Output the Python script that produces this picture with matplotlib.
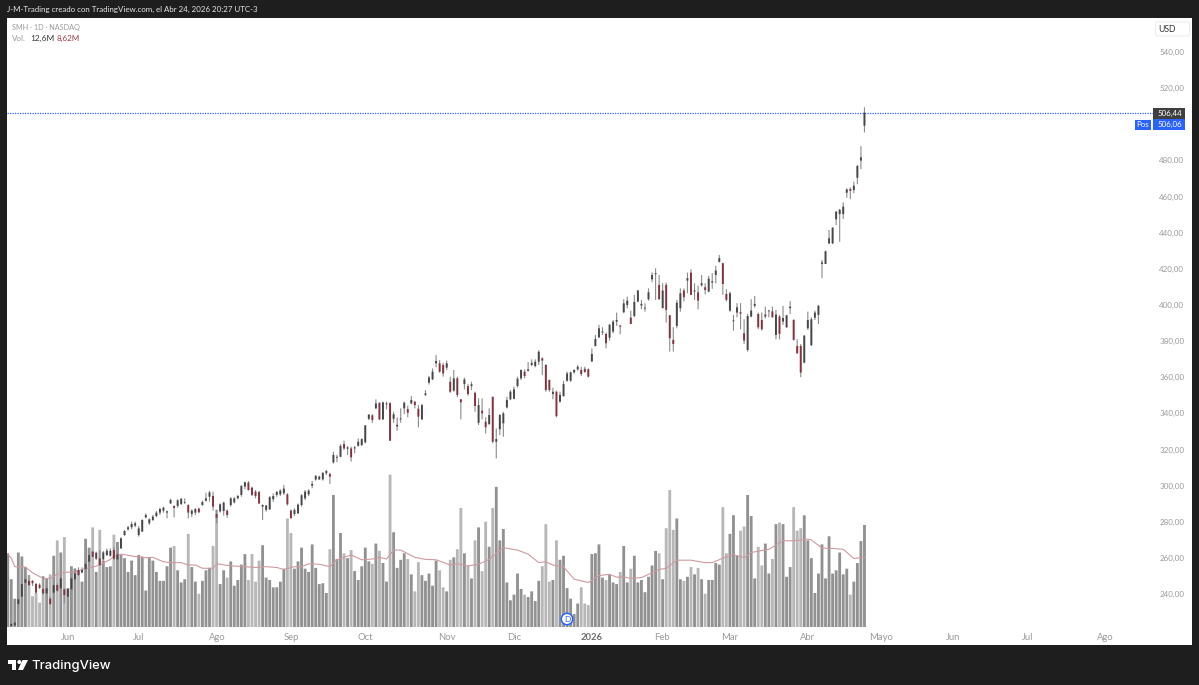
import matplotlib

matplotlib.use("Agg")
import matplotlib.pyplot as plt
from matplotlib.patches import Circle, FancyBboxPatch, Polygon, Rectangle
from matplotlib.ticker import FuncFormatter

plt.rcParams["font.family"] = ["Lato", "DejaVu Sans"]

opens = [
    219.5, 222.3, 222.7, 234.5, 238.6, 246.3, 247.4, 247.3, 245.6, 245.2,
    242.8, 240.4, 237.5, 240.8, 245.0, 243.2, 242.6, 238.6, 242.6, 248.2,
    253.3, 252.0, 253.9, 258.0, 263.5, 259.6, 259.8, 259.2, 261.6, 261.3,
    264.4, 259.2, 265.3, 272.7, 275.9, 277.0, 277.9, 272.7, 274.6, 282.5,
    279.2, 281.0, 283.2, 285.1, 286.2, 285.1, 290.2, 288.8, 288.8, 289.9,
    290.4, 289.3, 284.3, 285.1, 287.3, 289.3, 291.7, 293.9, 294.3, 284.3,
    285.8, 286.0, 286.2, 289.3, 290.8, 293.0, 294.9, 299.5, 301.7, 298.9,
    296.7, 296.5, 288.4, 286.6, 286.9, 292.5, 294.9, 295.2, 295.8, 295.2,
    286.2, 284.3, 284.7, 289.3, 293.0, 295.2, 300.0, 303.4, 303.5, 303.5,
    306.9, 306.5, 312.9, 315.5, 316.0, 323.0, 320.5, 320.6, 320.6, 322.1,
    322.5, 324.0, 337.0, 338.9, 342.8, 345.9, 336.7, 345.0, 345.7, 337.0,
    332.8, 336.7, 342.8, 342.4, 345.5, 346.5, 342.6, 336.7, 350.2, 357.0,
    358.8, 367.7, 367.7, 366.8, 365.3, 357.5, 352.6, 359.4, 347.8, 356.2,
    355.1, 355.1, 351.4, 334.8, 341.5, 335.4, 334.1, 349.2, 324.3, 331.2,
    334.5, 343.3, 347.8, 348.1, 355.1, 359.4, 363.1, 363.6, 366.8, 366.2,
    368.6, 370.5, 366.8, 358.5, 350.7, 352.0, 346.5, 349.6, 358.1, 358.1,
    362.7, 364.4, 364.0, 364.7, 364.4, 368.7, 377.3, 382.1, 384.7, 384.0,
    381.9, 385.3, 390.8, 388.6, 396.0, 400.0, 393.0, 393.9, 401.9, 399.7,
    398.0, 403.2, 414.2, 417.0, 411.1, 398.2, 411.1, 394.3, 380.7, 388.4,
    398.2, 408.0, 413.5, 417.9, 407.4, 407.0, 410.9, 409.8, 407.4, 412.4,
    416.6, 423.8, 423.1, 406.1, 396.9, 391.0, 395.8, 396.0, 384.3, 375.1,
    393.6, 399.5, 395.0, 391.7, 393.6, 396.5, 396.5, 383.4, 393.6, 390.8,
    387.7, 398.2, 391.7, 377.3, 377.3, 368.1, 387.1, 377.7, 393.0, 394.5,
    422.7, 422.7, 434.1, 434.1, 447.4, 450.3, 450.3, 462.1, 464.2, 463.6,
    470.4, 479.9, 499.2,
]
closes = [
    220.5, 223.5, 224.2, 237.1, 245.6, 248.2, 245.0, 246.0, 240.8, 243.4,
    240.4, 243.2, 234.5, 245.0, 241.9, 248.7, 239.5, 242.8, 248.7, 251.5,
    250.6, 253.3, 256.7, 261.6, 260.7, 262.9, 256.1, 263.1, 264.0, 264.0,
    259.6, 262.0, 270.9, 274.9, 277.0, 278.8, 279.2, 276.4, 281.0, 283.8,
    281.4, 282.9, 285.1, 287.1, 287.8, 285.8, 292.1, 287.7, 291.9, 292.8,
    290.8, 285.1, 286.2, 287.1, 285.3, 291.0, 293.0, 296.3, 288.4, 282.3,
    289.7, 290.6, 283.8, 293.0, 293.0, 294.3, 299.8, 301.9, 297.6, 294.9,
    294.3, 290.2, 289.3, 289.0, 293.6, 294.3, 296.5, 297.3, 298.4, 289.7,
    282.1, 286.6, 289.5, 294.7, 296.7, 297.3, 301.0, 305.4, 305.0, 307.2,
    308.1, 305.0, 317.0, 316.0, 322.0, 320.6, 321.2, 315.7, 321.2, 324.3,
    325.8, 333.4, 339.3, 336.3, 345.5, 336.7, 346.1, 345.5, 324.9, 339.5,
    333.7, 337.2, 345.9, 340.4, 347.4, 344.6, 338.2, 344.6, 351.1, 359.9,
    363.1, 369.0, 363.1, 362.1, 367.7, 352.0, 359.4, 350.2, 346.1, 358.8,
    350.7, 356.1, 344.1, 344.6, 340.0, 332.3, 339.1, 324.3, 325.8, 339.1,
    340.0, 347.4, 352.0, 353.3, 359.2, 364.0, 360.7, 364.4, 368.0, 368.6,
    374.1, 369.2, 352.9, 352.9, 352.0, 338.5, 350.2, 356.2, 362.1, 362.7,
    364.0, 365.8, 361.8, 362.9, 360.3, 372.9, 381.2, 387.1, 385.3, 378.8,
    389.0, 390.8, 391.7, 388.0, 400.9, 402.4, 389.5, 401.7, 408.0, 400.6,
    398.5, 407.0, 416.6, 417.6, 403.2, 408.0, 397.3, 381.6, 378.4, 401.3,
    406.5, 404.3, 414.8, 405.6, 408.0, 402.4, 412.0, 408.3, 414.6, 413.1,
    419.0, 425.9, 411.6, 402.8, 406.5, 391.5, 398.7, 395.2, 380.3, 393.9,
    396.9, 400.6, 387.7, 386.6, 394.7, 396.9, 393.2, 394.7, 384.0, 392.8,
    394.3, 399.1, 380.7, 373.3, 362.6, 383.0, 391.7, 392.1, 395.8, 399.5,
    423.5, 429.7, 436.9, 442.8, 451.6, 452.7, 454.4, 464.0, 463.2, 466.0,
    476.9, 481.7, 506.44,
]
highs = [
    221.0, 224.2, 225.1, 238.2, 246.3, 249.3, 250.6, 247.8, 246.3, 246.0,
    250.0, 243.8, 238.6, 245.6, 246.0, 249.3, 243.2, 243.2, 249.6, 254.3,
    254.8, 254.8, 258.0, 262.6, 263.9, 263.5, 264.4, 263.9, 265.3, 265.3,
    265.9, 262.6, 271.4, 275.5, 277.7, 280.1, 280.1, 277.7, 281.4, 284.7,
    281.9, 283.8, 286.0, 287.8, 288.4, 286.2, 292.8, 289.0, 292.5, 293.0,
    293.0, 289.7, 286.9, 287.5, 287.8, 291.7, 296.1, 297.1, 296.7, 286.6,
    290.2, 291.2, 286.9, 293.6, 293.6, 294.9, 300.4, 302.2, 302.6, 299.5,
    297.6, 297.1, 289.7, 289.3, 294.3, 295.8, 297.1, 298.0, 300.4, 295.8,
    286.9, 287.5, 290.2, 295.4, 297.6, 298.0, 302.6, 305.9, 305.6, 307.2,
    308.7, 307.2, 318.8, 317.0, 323.0, 324.9, 321.9, 321.6, 321.9, 326.2,
    326.2, 333.5, 339.6, 339.6, 347.8, 346.0, 346.5, 346.5, 346.1, 340.9,
    337.8, 342.8, 346.5, 344.3, 349.6, 346.8, 344.6, 345.2, 352.9, 360.7,
    364.9, 372.3, 369.5, 368.0, 369.2, 360.3, 364.0, 360.3, 347.8, 359.8,
    356.2, 357.5, 352.0, 348.3, 348.3, 337.8, 342.8, 349.2, 331.7, 339.6,
    340.9, 349.2, 352.9, 354.8, 360.3, 364.4, 364.4, 368.4, 369.9, 369.9,
    375.0, 371.0, 367.3, 358.8, 354.2, 352.6, 352.0, 358.1, 363.1, 363.1,
    364.4, 366.8, 365.8, 365.8, 364.9, 376.0, 383.4, 389.0, 387.7, 384.7,
    389.5, 391.7, 395.8, 389.0, 403.2, 404.6, 396.9, 405.6, 408.3, 402.8,
    400.9, 409.2, 418.1, 420.3, 416.6, 412.0, 412.4, 394.5, 387.7, 402.8,
    409.2, 409.2, 417.9, 419.8, 412.0, 410.7, 416.6, 412.0, 416.1, 417.6,
    421.6, 427.7, 423.5, 408.7, 407.4, 394.5, 401.0, 401.0, 392.1, 395.0,
    403.2, 405.0, 395.8, 395.8, 399.1, 397.3, 399.1, 397.3, 394.5, 399.5,
    394.5, 402.2, 392.1, 381.0, 378.4, 383.4, 396.3, 393.2, 396.9, 400.0,
    424.9, 430.1, 441.5, 443.0, 452.0, 453.1, 456.8, 464.5, 465.1, 468.2,
    477.5, 488.0, 509.4,
]
lows = [
    219.0, 222.3, 222.3, 233.6, 238.2, 245.6, 244.5, 244.5, 240.4, 242.8,
    239.5, 240.0, 234.0, 240.0, 241.4, 242.8, 234.9, 238.2, 242.3, 247.8,
    250.0, 251.5, 253.3, 257.4, 260.4, 258.9, 255.6, 258.5, 261.1, 260.7,
    258.9, 258.9, 265.0, 272.2, 275.1, 275.9, 277.0, 271.8, 274.4, 281.9,
    278.3, 280.5, 282.5, 283.8, 285.1, 281.9, 289.9, 282.5, 287.8, 289.3,
    289.9, 281.9, 282.5, 283.8, 284.7, 288.9, 291.2, 291.2, 286.2, 279.2,
    285.1, 283.4, 282.3, 288.4, 290.2, 292.5, 293.9, 298.0, 297.3, 294.3,
    293.0, 289.9, 281.0, 285.6, 286.6, 291.2, 293.9, 294.3, 294.9, 289.0,
    281.6, 283.2, 284.3, 288.4, 292.1, 294.3, 298.6, 302.8, 303.2, 302.8,
    305.9, 301.0, 312.3, 313.0, 315.7, 319.7, 317.0, 313.3, 317.9, 321.6,
    321.9, 323.4, 336.3, 334.8, 342.4, 336.3, 336.3, 342.2, 324.9, 334.8,
    330.4, 334.8, 339.6, 337.8, 345.2, 342.8, 332.3, 336.3, 349.6, 356.0,
    358.5, 365.5, 362.5, 360.3, 364.0, 351.4, 352.0, 348.9, 336.7, 353.3,
    349.8, 352.9, 340.9, 333.6, 336.7, 328.9, 333.6, 323.4, 315.1, 328.0,
    327.1, 342.8, 347.4, 347.8, 354.4, 358.5, 359.4, 363.1, 366.2, 365.5,
    366.8, 361.2, 352.0, 352.0, 347.8, 337.8, 345.9, 349.2, 357.5, 357.5,
    362.1, 363.6, 360.7, 362.5, 359.9, 368.7, 377.0, 381.6, 383.4, 376.0,
    380.3, 384.3, 388.4, 383.8, 395.4, 398.2, 389.5, 393.2, 401.5, 397.6,
    396.3, 402.4, 412.6, 402.8, 402.8, 398.2, 390.2, 374.2, 374.2, 387.1,
    396.3, 401.9, 406.5, 405.6, 402.8, 397.6, 410.2, 405.9, 407.0, 408.9,
    412.0, 423.5, 405.6, 401.9, 396.3, 385.8, 393.2, 386.6, 378.4, 374.2,
    393.2, 398.5, 386.6, 385.8, 392.6, 393.2, 393.0, 381.0, 381.0, 389.0,
    387.3, 395.0, 380.3, 372.9, 360.0, 367.7, 386.2, 377.3, 391.7, 389.5,
    414.8, 422.7, 433.7, 433.7, 444.2, 435.0, 447.6, 459.4, 458.6, 461.8,
    466.8, 475.2, 495.5,
]
# volume in millions
volumes = [
    9.1, 5.9, 3.5, 9.2, 8.7, 7.4, 6.4, 3.8, 4.2, 3.0,
    6.3, 6.0, 6.5, 8.8, 10.7, 9.2, 11.1, 4.8, 7.5, 7.2,
    7.0, 5.6, 10.9, 9.8, 12.3, 6.8, 12.0, 8.2, 7.4, 7.5,
    11.4, 10.5, 8.9, 8.5, 6.8, 8.2, 6.4, 8.9, 8.7, 4.5,
    8.6, 8.2, 6.8, 5.7, 5.7, 7.5, 9.8, 10.0, 7.0, 5.5,
    5.9, 11.5, 7.4, 5.6, 4.1, 5.7, 7.0, 7.3, 10.0, 14.5,
    5.3, 7.0, 6.1, 8.1, 5.1, 5.8, 7.7, 9.0, 5.8, 9.0,
    5.6, 8.2, 10.1, 6.1, 5.8, 4.9, 4.9, 5.6, 7.2, 13.4,
    11.6, 7.2, 8.1, 9.8, 7.2, 6.8, 10.2, 7.3, 5.3, 5.4,
    4.2, 9.6, 16.3, 8.4, 11.6, 9.1, 8.5, 9.5, 6.9, 5.8,
    7.5, 9.8, 8.1, 7.8, 10.3, 9.4, 7.9, 5.6, 18.8, 11.7,
    7.3, 8.3, 9.1, 8.4, 6.5, 4.4, 8.0, 6.4, 5.7, 6.6,
    5.1, 8.2, 7.0, 4.9, 4.4, 8.3, 8.6, 9.6, 14.7, 9.1,
    7.6, 6.0, 10.7, 12.3, 6.9, 13.0, 9.9, 14.7, 17.3, 10.7,
    12.1, 5.5, 3.3, 4.0, 6.6, 4.7, 4.0, 3.7, 4.4, 3.2,
    5.7, 7.5, 12.7, 5.6, 5.8, 10.7, 8.3, 8.8, 4.8, 3.5,
    1.6, 2.9, 4.9, 2.9, 2.7, 9.0, 9.1, 10.2, 6.1, 5.8,
    6.5, 5.5, 5.3, 6.8, 10.0, 5.5, 7.2, 8.8, 5.5, 5.8,
    4.3, 6.2, 7.6, 9.4, 9.1, 5.9, 12.2, 16.9, 12.0, 13.4,
    5.9, 5.7, 6.2, 7.4, 6.5, 7.3, 5.9, 4.1, 5.8, 5.8,
    7.9, 7.7, 14.8, 9.1, 11.5, 13.8, 8.8, 11.9, 12.4, 16.3,
    13.7, 6.0, 9.9, 7.6, 10.3, 6.6, 8.4, 12.7, 12.9, 12.7,
    6.2, 7.4, 14.8, 11.9, 12.2, 13.8, 10.7, 8.5, 4.2, 6.6,
    10.2, 6.0, 11.2, 6.6, 7.0, 9.2, 6.5, 7.2, 4.0, 5.6,
    7.9, 10.6, 12.6,
]
# volume average, read at these bars
ma_bars = [
    0, 1, 2, 5, 7, 10, 12, 14, 16, 19, 21, 24, 26, 29, 30, 32, 36, 39, 41, 44,
    46, 49, 51, 53, 55, 58, 59, 63, 67, 70, 73, 76, 78, 81, 83, 85, 88, 91, 93, 97,
    100, 103, 105, 107, 109, 111, 115, 118, 121, 125, 127, 130, 133, 136, 140, 144, 147, 150, 152, 154,
    157, 160, 162, 164, 167, 170, 172, 174, 176, 179, 181, 184, 186, 189, 193, 197, 199, 202, 205, 208,
    210, 215, 219, 222, 226, 227, 230, 233, 236, 239, 242,
]
ma_values = [
    9.0, 8.5, 7.45, 7.4, 6.7, 6.0, 6.0, 6.5, 6.75, 6.8, 7.1, 7.4, 7.65, 8.35, 8.7, 9.0, 8.7, 8.55, 8.6, 8.05,
    7.95, 7.95, 7.65, 7.65, 7.25, 7.25, 7.8, 7.55, 7.45, 7.35, 7.45, 7.35, 7.1, 7.45, 7.45, 7.8, 7.75, 7.45, 8.3, 8.9,
    8.3, 8.4, 8.6, 8.4, 9.5, 9.5, 8.6, 8.35, 8.3, 7.65, 7.8, 7.55, 7.75, 8.35, 9.8, 9.5, 9.0, 7.95, 8.05, 7.65,
    7.45, 5.9, 5.7, 5.5, 6.35, 6.5, 6.15, 6.2, 6.0, 6.1, 6.5, 7.1, 7.25, 8.25, 8.25, 7.95, 7.95, 8.5, 8.95, 8.55,
    9.2, 9.6, 10.65, 10.65, 10.85, 10.75, 9.75, 9.7, 9.6, 8.45, 8.62,
]
month_labels = ["Jun", "Jul", "Ago", "Sep", "Oct", "Nov", "Dic", "2026", "Feb", "Mar", "Abr", "Mayo", "Jun", "Jul", "Ago"]
month_bars = [17, 37.1, 59.1, 80, 100.9, 124, 143, 165, 184.8, 204, 225.8, 246.7, 267, 288, 310]
# 500,00 sits under the position tag in the reference, so it is left out
price_ticks = [240, 260, 280, 300, 320, 340, 360, 380, 400, 420, 440, 460, 480, 520, 540]
last_price = 506.44
pos_price = 506.06

assert len(opens) == len(closes) == len(highs) == len(lows) == len(volumes) == 243
assert len(ma_bars) == len(ma_values)

DARK = "#1e1e1e"
UP = "#47474b"
DOWN = "#84343f"
AXIS_GREY = "#9a9a9a"
W, H = 1199, 685


def px_rect(x0, y0, x1, y1):
    return [x0 / W, 1 - y1 / H, (x1 - x0) / W, (y1 - y0) / H]


fig = plt.figure(figsize=(W / 100, H / 100), dpi=100, facecolor=DARK)

# white pane behind everything
pane = fig.add_axes(px_rect(7, 18, 1192, 645), facecolor="white", zorder=0)
pane.set_xticks([])
pane.set_yticks([])
for s in pane.spines.values():
    s.set_visible(False)

ax = fig.add_axes(px_rect(7, 18, 1153, 627), zorder=2)
ax.patch.set_visible(False)
vol = ax.twinx()
vol.set_zorder(1)
vol.patch.set_visible(False)
vol.set_yticks([])
ax.set_zorder(vol.get_zorder() + 1)

bars = list(range(len(opens)))
is_up = [c >= o for o, c in zip(opens, closes)]

# volume + average
vbars = vol.bar(bars, volumes, width=0.8, linewidth=0,
                color=["#919191" if u else "#b7b7b7" for u in is_up])
for b in vbars:
    b.set_snap(False)
vol.plot(ma_bars, ma_values, color="#cf9aa0", lw=0.8)
vol.set_ylim(0, 75.2)

# candles, unsnapped so they keep the soft look
wicks = ax.vlines(bars, lows, highs, color="#8b8b8b", lw=0.8, zorder=3)
wicks.set_snap(False)
bodies = ax.bar(bars, [abs(c - o) for o, c in zip(opens, closes)], bottom=[min(o, c) for o, c in zip(opens, closes)],
                width=0.55, linewidth=0, color=[UP if u else DOWN for u in is_up], zorder=4)
for b in bodies:
    b.set_snap(False)
ax.axhline(last_price, color="#2962ff", lw=0.9, ls=(0, (1, 1)), zorder=2)

ax.set_xlim(-0.2, 323.5)
ax.set_ylim(221.8, 558.8)
vol.set_xlim(-0.2, 323.5)
ax.yaxis.tick_right()
ax.set_yticks(price_ticks)
ax.yaxis.set_major_formatter(FuncFormatter(lambda v, _: f"{v:.2f}".replace(".", ",")))
ax.tick_params(axis="y", length=0, pad=4.5, labelsize=5.8, labelcolor=AXIS_GREY)
ax.set_xticks(month_bars)
ax.set_xticklabels(month_labels)
ax.tick_params(axis="x", length=0, pad=4, labelsize=6.8, labelcolor=AXIS_GREY)
ax.get_xticklabels()[7].set_color("#6e6e6e")
ax.get_xticklabels()[7].set_fontweight("bold")
for a in (ax, vol):
    for s in a.spines.values():
        s.set_visible(False)

# page furniture, in pixel coordinates
ui = fig.add_axes([0, 0, 1, 1], zorder=5)
ui.set_xlim(0, W)
ui.set_ylim(H, 0)
ui.axis("off")

ui.text(7, 9.5, "J-M-Trading creado con TradingView.com, el Abr 24, 2026 20:27 UTC-3",
        color="#e6e6e6", fontsize=5.7, va="center")
ui.text(12, 27.5, "SMH · 1D · NASDAQ", color=AXIS_GREY, fontsize=5.2, va="center")
ui.text(12, 38.5, "Vol.", color=AXIS_GREY, fontsize=5.8, va="center")
ui.text(30, 38.5, "12,6M", color="#3a3a3a", fontsize=6.0, va="center")
ui.text(57, 38.5, "8,62M", color="#a03a48", fontsize=5.8, va="center")

ui.add_patch(FancyBboxPatch((1155.5, 22), 34, 14, boxstyle="round,pad=0,rounding_size=2",
                            fc="white", ec="#ececec", lw=0.8))
ui.text(1167, 29.5, "USD", color="#333333", fontsize=6.2, ha="center", va="center")

ui.add_patch(Rectangle((1153, 108), 32, 10.5, fc="#3f3f3f", ec="none"))
ui.text(1169.5, 113.2, f"{last_price:.2f}".replace(".", ","), color="white", fontsize=5.7,
        ha="center", va="center")
ui.add_patch(Rectangle((1135, 119.5), 16, 10, fc="#2962ff", ec="none"))
ui.text(1143, 124.5, "Pos", color="white", fontsize=5.7, ha="center", va="center")
ui.add_patch(Rectangle((1153, 119), 32, 10.5, fc="#2962ff", ec="none"))
ui.text(1169.5, 124.4, f"{pos_price:.2f}".replace(".", ","), color="white", fontsize=5.7,
        ha="center", va="center")

ui.add_patch(Circle((567, 619), 5.7, fc="white", ec="#2962ff", lw=1.1))
ui.text(567, 619.3, "D", color="#2962ff", fontsize=6, ha="center", va="center")

# TradingView logo
ui.add_patch(Polygon([(8, 660), (16, 660), (16, 670), (12, 670), (12, 664), (8, 664)], fc="white", ec="none"))
ui.add_patch(Circle((19.3, 662), 2, fc="white", ec="none"))
ui.add_patch(Polygon([(22.5, 660), (28, 660), (23, 670), (18, 670)], fc="white", ec="none"))
ui.text(31.5, 665.5, "TradingView", color="white", fontsize=9.4, fontweight="medium", va="center",
        family=["Inter", "DejaVu Sans"])

fig.savefig("out.png", dpi=100, facecolor=DARK)
